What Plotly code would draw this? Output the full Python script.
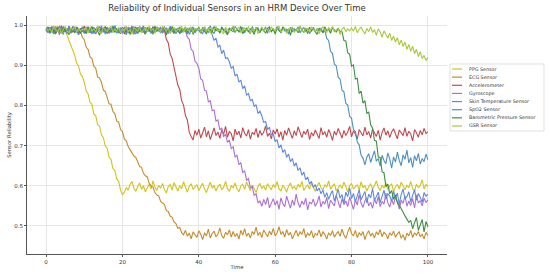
import plotly.graph_objects as go

# ---------------- data ----------------
TIME = [i * 0.5 for i in range(201)]  # 0, 0.5, ..., 100

SENSORS = ["PPG Sensor", "ECG Sensor", "Accelerometer", "Gyroscope",
           "Skin Temperature Sensor", "SpO2 Sensor",
           "Barometric Pressure Sensor", "GSR Sensor"]

PPG = [
    0.991, 0.984, 0.996, 0.982, 0.993, 0.987, 0.998, 0.980, 0.990, 0.986, 0.985, 0.976, 0.962, 0.951, 0.936, 0.925, 0.906, 0.898, 0.879, 0.872,
    0.858, 0.836, 0.829, 0.808, 0.803, 0.779, 0.775, 0.752, 0.749, 0.727, 0.720, 0.699, 0.694, 0.671, 0.666, 0.643, 0.638, 0.617, 0.611, 0.589,
    0.578, 0.584, 0.596, 0.589, 0.603, 0.611, 0.594, 0.586, 0.598, 0.607, 0.591, 0.600, 0.585, 0.596, 0.604, 0.592, 0.612, 0.597, 0.588, 0.601,
    0.594, 0.606, 0.590, 0.582, 0.598, 0.603, 0.589, 0.608, 0.595, 0.587, 0.600, 0.593, 0.610, 0.596, 0.584, 0.599, 0.605, 0.591, 0.597, 0.603,
    0.588, 0.599, 0.606, 0.592, 0.583, 0.597, 0.609, 0.594, 0.601, 0.587, 0.598, 0.604, 0.590, 0.596, 0.611, 0.593, 0.586, 0.600, 0.595, 0.607,
    0.592, 0.585, 0.599, 0.604, 0.591, 0.609, 0.596, 0.588, 0.602, 0.594, 0.583, 0.598, 0.606, 0.593, 0.600, 0.589, 0.605, 0.597, 0.591, 0.603,
    0.596, 0.610, 0.592, 0.587, 0.601, 0.595, 0.584, 0.599, 0.607, 0.593, 0.598, 0.590, 0.604, 0.596, 0.611, 0.588, 0.597, 0.602, 0.592, 0.606,
    0.594, 0.586, 0.600, 0.608, 0.595, 0.589, 0.603, 0.597, 0.612, 0.591, 0.599, 0.605, 0.587, 0.596, 0.602, 0.593, 0.609, 0.598, 0.584, 0.600,
    0.606, 0.592, 0.597, 0.603, 0.589, 0.610, 0.595, 0.601, 0.587, 0.598, 0.604, 0.593, 0.600, 0.612, 0.596, 0.588, 0.602, 0.594, 0.607, 0.591,
    0.599, 0.605, 0.586, 0.597, 0.603, 0.592, 0.609, 0.598, 0.590, 0.601, 0.595, 0.611, 0.593, 0.587, 0.604, 0.596, 0.600, 0.615, 0.592, 0.603,
    0.598,
]

ECG = [
    0.988, 0.995, 0.983, 0.991, 0.979, 0.997, 0.986, 0.993, 0.981, 0.990, 0.996, 0.984, 0.992, 0.980, 0.998, 0.987, 0.994, 0.982, 0.985, 0.970,
    0.964, 0.945, 0.940, 0.921, 0.917, 0.898, 0.893, 0.871, 0.869, 0.858, 0.838, 0.835, 0.818, 0.804, 0.803, 0.785, 0.780, 0.761, 0.759, 0.740,
    0.735, 0.716, 0.712, 0.698, 0.690, 0.681, 0.674, 0.671, 0.657, 0.648, 0.646, 0.631, 0.625, 0.622, 0.606, 0.599, 0.597, 0.583, 0.577, 0.575,
    0.561, 0.556, 0.553, 0.538, 0.536, 0.524, 0.522, 0.510, 0.506, 0.494, 0.496, 0.483, 0.478, 0.489, 0.474, 0.482, 0.468, 0.485, 0.477, 0.471,
    0.488, 0.479, 0.466, 0.483, 0.475, 0.492, 0.470, 0.481, 0.487, 0.473, 0.479, 0.495, 0.476, 0.469, 0.484, 0.478, 0.490, 0.472, 0.486, 0.474,
    0.481, 0.467, 0.489, 0.477, 0.493, 0.474, 0.482, 0.470, 0.486, 0.479, 0.497, 0.476, 0.484, 0.471, 0.490, 0.480, 0.473, 0.487, 0.478, 0.494,
    0.475, 0.483, 0.498, 0.479, 0.486, 0.472, 0.491, 0.477, 0.484, 0.468, 0.480, 0.489, 0.474, 0.485, 0.479, 0.493, 0.471, 0.482, 0.476, 0.488,
    0.470, 0.481, 0.477, 0.490, 0.473, 0.485, 0.479, 0.467, 0.483, 0.476, 0.488, 0.472, 0.480, 0.486, 0.474, 0.492, 0.478, 0.469, 0.484, 0.497,
    0.481, 0.475, 0.489, 0.471, 0.483, 0.477, 0.486, 0.466, 0.480, 0.488, 0.474, 0.482, 0.470, 0.485, 0.478, 0.491, 0.473, 0.484, 0.479, 0.468,
    0.483, 0.476, 0.487, 0.472, 0.480, 0.485, 0.469, 0.478, 0.464, 0.482, 0.475, 0.489, 0.471, 0.483, 0.477, 0.486, 0.473, 0.479, 0.468, 0.484,
    0.476,
]

ACCEL = [
    0.993, 0.982, 0.990, 0.997, 0.985, 0.979, 0.994, 0.988, 0.999, 0.984, 0.991, 0.980, 0.996, 0.987, 0.983, 0.995, 0.989, 0.977, 0.992, 0.986,
    0.998, 0.984, 0.990, 0.981, 0.994, 0.987, 0.979, 0.996, 0.985, 0.992, 0.983, 0.997, 0.988, 0.980, 0.993, 0.986, 0.999, 0.982, 0.991, 0.984,
    0.995, 0.978, 0.989, 0.993, 0.984, 0.998, 0.981, 0.990, 0.987, 0.996, 0.983, 0.992, 0.979, 0.994, 0.988, 0.985, 0.997, 0.982, 0.990, 0.986,
    0.993, 0.984, 0.988, 0.965, 0.956, 0.928, 0.918, 0.897, 0.879, 0.851, 0.840, 0.812, 0.801, 0.775, 0.764, 0.733, 0.723, 0.714, 0.738, 0.726,
    0.741, 0.719, 0.732, 0.746, 0.722, 0.737, 0.715, 0.729, 0.744, 0.725, 0.734, 0.718, 0.739, 0.728, 0.748, 0.721, 0.735, 0.730, 0.712, 0.741,
    0.727, 0.736, 0.719, 0.745, 0.731, 0.724, 0.740, 0.716, 0.733, 0.728, 0.743, 0.720, 0.738, 0.726, 0.734, 0.749, 0.723, 0.731, 0.717, 0.739,
    0.729, 0.742, 0.721, 0.735, 0.714, 0.738, 0.726, 0.744, 0.730, 0.718, 0.737, 0.725, 0.747, 0.732, 0.720, 0.736, 0.728, 0.741, 0.715, 0.733,
    0.724, 0.739, 0.730, 0.718, 0.745, 0.727, 0.735, 0.721, 0.740, 0.729, 0.713, 0.736, 0.726, 0.743, 0.731, 0.719, 0.738, 0.725, 0.734, 0.748,
    0.722, 0.737, 0.729, 0.716, 0.740, 0.732, 0.724, 0.746, 0.727, 0.735, 0.719, 0.741, 0.730, 0.723, 0.738, 0.714, 0.733, 0.744, 0.726, 0.737,
    0.720, 0.734, 0.742, 0.728, 0.717, 0.739, 0.731, 0.725, 0.745, 0.723, 0.736, 0.729, 0.712, 0.740, 0.732, 0.721, 0.738, 0.727, 0.743, 0.730,
    0.735,
]

GYRO = [
    0.986, 0.994, 0.981, 0.990, 0.997, 0.983, 0.989, 0.976, 0.995, 0.987, 0.992, 0.980, 0.998, 0.985, 0.991, 0.982, 0.996, 0.988, 0.979, 0.993,
    0.984, 0.990, 0.997, 0.981, 0.987, 0.994, 0.978, 0.992, 0.986, 0.999, 0.983, 0.989, 0.995, 0.980, 0.991, 0.985, 0.997, 0.982, 0.988, 0.993,
    0.979, 0.996, 0.987, 0.983, 0.994, 0.990, 0.977, 0.992, 0.985, 0.998, 0.981, 0.989, 0.995, 0.984, 0.991, 0.986, 0.980, 0.997, 0.988, 0.993,
    0.982, 0.990, 0.996, 0.985, 0.979, 0.994, 0.987, 0.992, 0.983, 0.986, 0.980, 0.991, 0.984, 0.986, 0.970, 0.965, 0.940, 0.935, 0.910, 0.905,
    0.893, 0.866, 0.863, 0.838, 0.836, 0.809, 0.812, 0.787, 0.789, 0.761, 0.764, 0.739, 0.744, 0.722, 0.729, 0.708, 0.714, 0.693, 0.697, 0.672,
    0.676, 0.653, 0.657, 0.633, 0.637, 0.614, 0.618, 0.595, 0.598, 0.576, 0.580, 0.558, 0.562, 0.549, 0.566, 0.553, 0.571, 0.545, 0.559, 0.568,
    0.552, 0.563, 0.541, 0.570, 0.556, 0.548, 0.574, 0.558, 0.544, 0.565, 0.551, 0.579, 0.557, 0.546, 0.562, 0.553, 0.569, 0.540, 0.560, 0.555,
    0.567, 0.549, 0.558, 0.575, 0.547, 0.561, 0.554, 0.571, 0.543, 0.564, 0.557, 0.550, 0.576, 0.559, 0.545, 0.568, 0.553, 0.562, 0.548, 0.572,
    0.556, 0.541, 0.565, 0.552, 0.578, 0.557, 0.546, 0.563, 0.570, 0.550, 0.559, 0.544, 0.567, 0.555, 0.573, 0.548, 0.561, 0.554, 0.582, 0.558,
    0.547, 0.566, 0.553, 0.571, 0.560, 0.542, 0.564, 0.556, 0.575, 0.549, 0.562, 0.551, 0.568, 0.545, 0.577, 0.557, 0.563, 0.550, 0.569, 0.558,
    0.565,
]

SKIN = [
    0.990, 0.981, 0.995, 0.987, 0.978, 0.993, 0.985, 0.998, 0.982, 0.989, 0.994, 0.980, 0.991, 0.986, 0.997, 0.983, 0.988, 0.976, 0.992, 0.985,
    0.981, 0.996, 0.988, 0.983, 0.993, 0.979, 0.990, 0.997, 0.984, 0.987, 0.992, 0.978, 0.995, 0.986, 0.982, 0.991, 0.998, 0.980, 0.989, 0.994,
    0.983, 0.988, 0.976, 0.995, 0.990, 0.982, 0.997, 0.985, 0.979, 0.993, 0.987, 0.996, 0.981, 0.989, 0.984, 0.992, 0.977, 0.994, 0.986, 0.990,
    0.995, 0.980, 0.988, 0.993, 0.983, 0.997, 0.986, 0.979, 0.991, 0.985, 0.996, 0.982, 0.990, 0.987, 0.978, 0.994, 0.984, 0.992, 0.981, 0.989,
    0.993, 0.985, 0.978, 0.996, 0.987, 0.982, 0.990, 0.976, 0.962, 0.968, 0.946, 0.950, 0.929, 0.938, 0.917, 0.919, 0.909, 0.893, 0.897, 0.873,
    0.878, 0.858, 0.863, 0.842, 0.849, 0.826, 0.830, 0.812, 0.815, 0.797, 0.802, 0.780, 0.786, 0.774, 0.758, 0.760, 0.741, 0.745, 0.727, 0.729,
    0.710, 0.715, 0.694, 0.702, 0.683, 0.690, 0.671, 0.679, 0.660, 0.668, 0.649, 0.657, 0.638, 0.645, 0.626, 0.634, 0.615, 0.622, 0.604, 0.611,
    0.596, 0.603, 0.587, 0.594, 0.580, 0.589, 0.571, 0.583, 0.566, 0.579, 0.588, 0.562, 0.575, 0.591, 0.569, 0.578, 0.556, 0.584, 0.573, 0.595,
    0.568, 0.581, 0.560, 0.577, 0.590, 0.565, 0.574, 0.586, 0.557, 0.579, 0.570, 0.593, 0.563, 0.576, 0.584, 0.558, 0.572, 0.589, 0.566, 0.580,
    0.575, 0.561, 0.587, 0.569, 0.582, 0.554, 0.578, 0.592, 0.567, 0.573, 0.585, 0.560, 0.576, 0.590, 0.564, 0.581, 0.571, 0.559, 0.583, 0.574,
    0.579,
]

SPO2 = [
    0.984, 0.992, 0.979, 0.996, 0.988, 0.983, 0.995, 0.986, 0.990, 0.977, 0.993, 0.985, 0.998, 0.981, 0.989, 0.994, 0.982, 0.991, 0.987, 0.996,
    0.980, 0.993, 0.986, 0.990, 0.978, 0.995, 0.984, 0.989, 0.997, 0.982, 0.991, 0.985, 0.979, 0.994, 0.988, 0.983, 0.996, 0.990, 0.981, 0.987,
    0.992, 0.984, 0.997, 0.980, 0.989, 0.993, 0.986, 0.978, 0.995, 0.983, 0.990, 0.998, 0.982, 0.987, 0.994, 0.979, 0.991, 0.985, 0.996, 0.988,
    0.981, 0.994, 0.987, 0.990, 0.983, 0.997, 0.985, 0.992, 0.979, 0.988, 0.995, 0.982, 0.990, 0.986, 0.993, 0.977, 0.989, 0.996, 0.984, 0.991,
    0.987, 0.980, 0.995, 0.989, 0.983, 0.992, 0.998, 0.985, 0.979, 0.994, 0.988, 0.982, 0.996, 0.986, 0.991, 0.978, 0.993, 0.987, 0.984, 0.997,
    0.990, 0.983, 0.988, 0.995, 0.981, 0.992, 0.986, 0.979, 0.997, 0.984, 0.989, 0.994, 0.982, 0.990, 0.987, 0.996, 0.980, 0.993, 0.985, 0.991,
    0.984, 0.997, 0.988, 0.982, 0.993, 0.986, 0.990, 0.978, 0.995, 0.983, 0.991, 0.987, 0.996, 0.981, 0.989, 0.994, 0.985, 0.992, 0.979, 0.988,
    0.995, 0.983, 0.990, 0.986, 0.993, 0.981, 0.988, 0.967, 0.962, 0.935, 0.930, 0.903, 0.899, 0.870, 0.866, 0.838, 0.834, 0.805, 0.801, 0.773,
    0.768, 0.740, 0.735, 0.709, 0.702, 0.676, 0.669, 0.652, 0.671, 0.680, 0.658, 0.673, 0.687, 0.661, 0.668, 0.649, 0.676, 0.663, 0.655, 0.682,
    0.667, 0.644, 0.672, 0.659, 0.684, 0.663, 0.650, 0.677, 0.666, 0.689, 0.657, 0.670, 0.646, 0.675, 0.662, 0.681, 0.654, 0.668, 0.660, 0.679,
    0.665,
]

BARO = [
    0.989, 0.996, 0.983, 0.991, 0.986, 0.978, 0.994, 0.988, 0.981, 0.997, 0.985, 0.990, 0.976, 0.993, 0.987, 0.982, 0.995, 0.989, 0.980, 0.992,
    0.986, 0.979, 0.994, 0.988, 0.997, 0.983, 0.990, 0.985, 0.975, 0.993, 0.987, 0.996, 0.981, 0.989, 0.984, 0.998, 0.982, 0.991, 0.986, 0.979,
    0.995, 0.988, 0.983, 0.992, 0.977, 0.990, 0.986, 0.996, 0.981, 0.989, 0.993, 0.984, 0.978, 0.994, 0.987, 0.991, 0.982, 0.997, 0.985, 0.990,
    0.983, 0.994, 0.989, 0.976, 0.992, 0.986, 0.997, 0.981, 0.988, 0.993, 0.979, 0.990, 0.985, 0.996, 0.982, 0.989, 0.994, 0.977, 0.991, 0.987,
    0.996, 0.981, 0.990, 0.985, 0.978, 0.993, 0.988, 0.983, 0.997, 0.986, 0.991, 0.980, 0.994, 0.989, 0.984, 0.976, 0.992, 0.987, 0.995, 0.982,
    0.990, 0.985, 0.997, 0.979, 0.988, 0.993, 0.983, 0.991, 0.986, 0.977, 0.995, 0.989, 0.982, 0.994, 0.987, 0.980, 0.992, 0.996, 0.984, 0.990,
    0.978, 0.993, 0.987, 0.982, 0.996, 0.989, 0.984, 0.991, 0.975, 0.994, 0.986, 0.990, 0.981, 0.997, 0.988, 0.983, 0.992, 0.979, 0.995, 0.986,
    0.991, 0.984, 0.977, 0.993, 0.988, 0.982, 0.996, 0.986, 0.990, 0.980, 0.994, 0.987, 0.983, 0.992, 0.985, 0.984, 0.962, 0.961, 0.931, 0.928,
    0.898, 0.901, 0.866, 0.868, 0.830, 0.836, 0.806, 0.812, 0.780, 0.784, 0.752, 0.744, 0.713, 0.711, 0.672, 0.670, 0.635, 0.632, 0.598, 0.604,
    0.580, 0.588, 0.566, 0.577, 0.558, 0.552, 0.541, 0.534, 0.525, 0.516, 0.509, 0.514, 0.493, 0.508, 0.521, 0.489, 0.503, 0.516, 0.485, 0.511,
    0.498,
]

GSR = [
    0.995, 0.987, 0.991, 0.982, 0.998, 0.989, 0.984, 0.993, 0.979, 0.990, 0.996, 0.986, 0.981, 0.994, 0.988, 0.997, 0.983, 0.992, 0.985, 0.990,
    0.988, 0.993, 0.980, 0.996, 0.986, 0.991, 0.983, 0.998, 0.987, 0.979, 0.994, 0.989, 0.984, 0.992, 0.997, 0.982, 0.990, 0.985, 0.995, 0.981,
    0.992, 0.986, 0.997, 0.983, 0.989, 0.978, 0.994, 0.990, 0.985, 0.996, 0.981, 0.988, 0.993, 0.984, 0.998, 0.987, 0.991, 0.980, 0.995, 0.989,
    0.984, 0.997, 0.990, 0.986, 0.993, 0.979, 0.988, 0.995, 0.983, 0.991, 0.987, 0.998, 0.982, 0.994, 0.989, 0.985, 0.996, 0.981, 0.992, 0.988,
    0.993, 0.983, 0.989, 0.996, 0.985, 0.991, 0.980, 0.994, 0.988, 0.997, 0.984, 0.990, 0.986, 0.978, 0.995, 0.989, 0.983, 0.992, 0.998, 0.985,
    0.990, 0.995, 0.982, 0.988, 0.993, 0.986, 0.997, 0.981, 0.991, 0.987, 0.994, 0.979, 0.989, 0.996, 0.984, 0.992, 0.988, 0.983, 0.995, 0.990,
    0.986, 0.992, 0.997, 0.983, 0.989, 0.994, 0.980, 0.991, 0.987, 0.996, 0.982, 0.990, 0.985, 0.998, 0.988, 0.981, 0.993, 0.989, 0.984, 0.995,
    0.991, 0.985, 0.993, 0.979, 0.990, 0.996, 0.986, 0.982, 0.994, 0.988, 0.997, 0.983, 0.989, 0.992, 0.977, 0.990, 0.995, 0.984, 0.991, 0.986,
    0.993, 0.985, 0.997, 0.981, 0.990, 0.995, 0.986, 0.978, 0.992, 0.984, 0.996, 0.982, 0.989, 0.975, 0.991, 0.983, 0.970, 0.986, 0.977, 0.968,
    0.980, 0.962, 0.973, 0.958, 0.969, 0.951, 0.963, 0.947, 0.958, 0.940, 0.952, 0.935, 0.948, 0.929, 0.940, 0.922, 0.934, 0.917, 0.925, 0.912,
    0.920,
]

VALUES = [PPG, ECG, ACCEL, GYRO, SKIN, SPO2, BARO, GSR]
COLORS = ["#d2c21c", "#c48c2c", "#c0494f", "#ad6fd2",
          "#5f88e0", "#4f8fbf", "#3f8f3f", "#a8c83a"]

X_TICKS = [0, 20, 40, 60, 80, 100]
Y_TICKS = [0.5, 0.6, 0.7, 0.8, 0.9, 1.0]
Y_TICK_TEXT = ["0.5", "0.6", "0.7", "0.8", "0.9", "1.0"]

for v in VALUES:
    assert len(v) == len(TIME), len(v)

# ---------------- figure ----------------
W, H = 550, 275
L, R, T, B = 27, 447, 16, 254  # plot area in pixels
FONT = "DejaVu Sans"
TXT = "#333333"

fig = go.Figure()
for name, vals, col in zip(SENSORS, VALUES, COLORS):
    fig.add_trace(go.Scatter(x=TIME, y=vals, mode="lines", name=name,
                             line=dict(color=col, width=1.1), showlegend=False))


def px2x(px):
    return (px - L) / (R - L)


def py2y(py):
    return (B - py) / (B - T)


axis_common = dict(showgrid=True, gridcolor="#e6e6e6", gridwidth=0.8,
                   zeroline=False, showline=True, linecolor="#555555",
                   linewidth=1, ticks="outside", ticklen=2, tickcolor="#555555",
                   automargin=False,
                   tickfont=dict(family=FONT, size=5.5, color=TXT))

fig.update_layout(
    template="none",
    width=W, height=H,
    margin=dict(l=L, r=W - R, t=T, b=H - B, pad=0),
    paper_bgcolor="white", plot_bgcolor="white",
    font=dict(family=FONT, color=TXT),
    showlegend=False,
    title=dict(text="Reliability of Individual Sensors in an HRM Device Over Time",
               x=(L + R) / 2 / W, xanchor="center", xref="container",
               y=1 - 8 / H, yanchor="middle", yref="container",
               font=dict(family=FONT, size=8.5, color=TXT)),
    xaxis=dict(range=[-5, 105], tickvals=X_TICKS,
               title=dict(text="Time", font=dict(family=FONT, size=5.3, color=TXT), standoff=1),
               **axis_common),
    yaxis=dict(range=[0.43, 1.023], tickvals=Y_TICKS, ticktext=Y_TICK_TEXT,
               title=dict(text="Sensor Reliability", font=dict(family=FONT, size=5.3, color=TXT), standoff=2),
               **axis_common),
)

# legend (drawn with shapes + text so its compact size matches)
LEG_X0, LEG_X1, LEG_Y0, LEG_Y1 = 450, 544, 64, 131
fig.add_shape(type="rect", xref="paper", yref="paper",
              x0=px2x(LEG_X0), x1=px2x(LEG_X1), y0=py2y(LEG_Y1), y1=py2y(LEG_Y0),
              line=dict(color="#d9d9d9", width=0.8), fillcolor="white", layer="above")
for i, (name, col) in enumerate(zip(SENSORS, COLORS)):
    cy = 69 + 8.14 * i
    fig.add_shape(type="line", xref="paper", yref="paper",
                  x0=px2x(452), x1=px2x(462), y0=py2y(cy), y1=py2y(cy),
                  line=dict(color=col, width=1.2))
    fig.add_annotation(text=name, xref="paper", yref="paper",
                       x=px2x(466.5), y=py2y(cy), xanchor="left", yanchor="middle",
                       showarrow=False, font=dict(family=FONT, size=4.8, color=TXT))

# the page's default 8px body margin would shift the 550x275 figure; remove it
fig.write_html("out.html", config={"displayModeBar": False},
               post_script="document.body.style.margin='0';")
